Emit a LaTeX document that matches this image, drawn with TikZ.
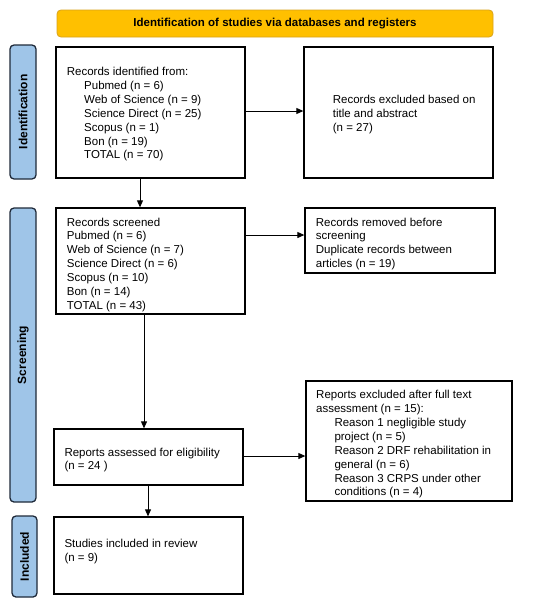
\documentclass[tikz,border=0pt]{standalone}
\usepackage{fontspec}
\setmainfont{Liberation Sans}
\usetikzlibrary{arrows.meta}
\definecolor{baryellow}{HTML}{FFC000}
\definecolor{baryellowline}{HTML}{D9A21B}
\definecolor{sideblue}{HTML}{9FC5E8}
\definecolor{sideline}{HTML}{1F2A3A}
\begin{document}
\begin{tikzpicture}[x=1pt,y=-1pt,
  box/.style={draw=black,line width=1.3pt,fill=white,inner sep=0pt},
  txt/.style={anchor=north west,inner sep=0pt,align=left,font=\fontsize{11.5}{13.9}\selectfont},
  side/.style={draw=sideline,line width=1.3pt,fill=sideblue,rounded corners=4pt,inner sep=0pt},
  sidetxt/.style={rotate=90,inner sep=0pt,font=\fontsize{12}{14}\selectfont\bfseries},
  arr/.style={draw=black,line width=0.9pt,-{Triangle[length=7pt,width=6pt]}},
  ln/.style={draw=black,line width=0.9pt}]
\useasboundingbox (0,0) rectangle (550,605);
\fill[white] (0,0) rectangle (550,605);
% title bar
\node[draw=baryellowline,line width=0.8pt,fill=baryellow,rounded corners=4pt,minimum width=436pt,minimum height=27pt,inner sep=0pt,font=\fontsize{11.5}{13.9}\selectfont\bfseries] (title) at (275,23.5) {Identification of studies via databases and registers};
% side bars
\node[side,minimum width=26pt,minimum height=134pt] (sid) at (23,112) {};
\node[sidetxt] (sidt) at (23,112) {Identification};
\node[side,minimum width=26pt,minimum height=294pt] (sscr) at (23,355) {};
\node[sidetxt] (sscrt) at (23,355) {Screening};
\node[side,minimum width=25pt,minimum height=81pt] (sinc) at (24.5,556.5) {};
\node[sidetxt] (sinct) at (24.5,556.5) {Included};
% boxes
\node[box,minimum width=189pt,minimum height=131pt] (b1) at (150.5,112.5) {};
\node[box,minimum width=189pt,minimum height=131pt] (b2) at (398.5,112.5) {};
\node[box,minimum width=189pt,minimum height=106pt] (b3) at (150.5,261) {};
\node[box,minimum width=190pt,minimum height=65pt] (b4) at (400,240.5) {};
\node[box,minimum width=189pt,minimum height=56pt] (b5) at (148.5,457) {};
\node[box,minimum width=206pt,minimum height=120pt] (b6) at (409,441) {};
\node[box,minimum width=189pt,minimum height=77pt] (b7) at (148.5,555.5) {};
% texts
\node[txt] (t1) at (66.7,67) {Records identified from:\\
\hspace*{17.3pt}Pubmed (n = 6)\\
\hspace*{17.3pt}Web of Science (n = 9)\\
\hspace*{17.3pt}Science Direct (n = 25)\\
\hspace*{17.3pt}Scopus (n = 1)\\
\hspace*{17.3pt}Bon (n = 19)\\
\hspace*{17.3pt}TOTAL (n = 70)};
\node[txt] (t2) at (332.7,95.1) {Records excluded based on\\title and abstract\\(n = 27)};
\node[txt] (t3) at (66.7,217.5) {Records screened\\Pubmed (n = 6)\\Web of Science (n = 7)\\Science Direct (n = 6)\\Scopus (n = 10)\\Bon (n = 14)\\TOTAL (n = 43)};
\node[txt] (t4) at (315.7,217.5) {Records removed before\\screening\\Duplicate records between\\articles (n = 19)};
\node[txt] (t6) at (316,390.1) {Reports excluded after full text\\assessment (n = 15):\\
\hspace*{18.3pt}Reason 1 negligible study\\
\hspace*{18.3pt}project (n = 5)\\
\hspace*{18.3pt}Reason 2 DRF rehabilitation in\\
\hspace*{18.3pt}general (n = 6)\\
\hspace*{18.3pt}Reason 3 CRPS under other\\
\hspace*{18.3pt}conditions (n = 4)};
\node[txt] (t5) at (64.3,447.5) {Reports assessed for eligibility\\(n = 24 )};
\node[txt] (t7) at (64.3,539.1) {Studies included in review\\(n = 9)};
% connectors
\draw[arr] ([yshift=1.5pt]b1.east) -- ([yshift=1.5pt]b1.east -| b2.west);
\draw[arr] ([xshift=-10.5pt]b1.south) -- ([xshift=-10.5pt]b1.south |- b3.north);
\draw[arr] ([yshift=26pt]b3.east) -- ([yshift=26pt]b3.east -| b4.west);
\draw[arr] ([xshift=-6.5pt]b3.south) -- ([xshift=-6.5pt]b3.south |- b5.north);
\draw[arr] ([yshift=1pt]b5.east) -- ([yshift=1pt]b5.east -| b6.west);
\draw[arr] ([xshift=-0.5pt]b5.south) -- ([xshift=-0.5pt]b5.south |- b7.north);
\end{tikzpicture}
\end{document}
